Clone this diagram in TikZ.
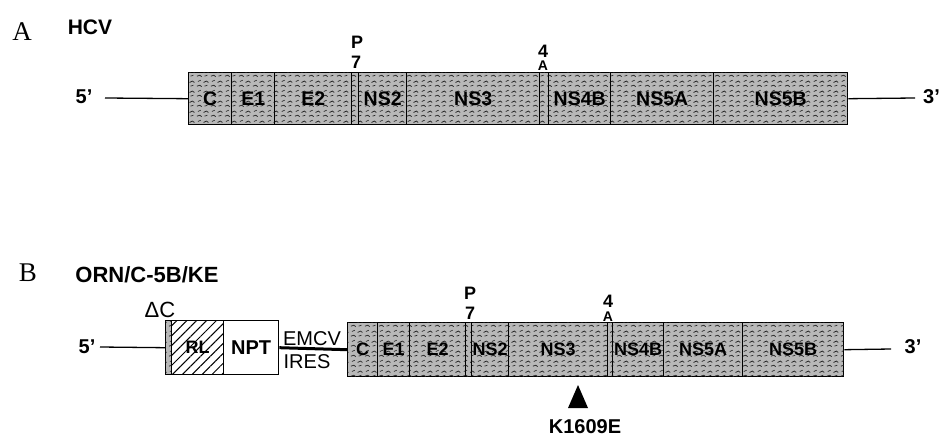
\documentclass[tikz,border=0pt]{standalone}
\usepackage{fontspec}
\setmainfont{Liberation Serif}
\setsansfont{Liberation Sans}
\usetikzlibrary{patterns.meta}
\tikzdeclarepattern{
  name=stipple,
  type=uncolored,
  bounding box={(0pt,0pt) and (14pt,10pt)},
  tile size={(14pt,10pt)},
  code={
    \draw[line width=0.8pt] (1pt,2pt) -- (4pt,3pt) -- (6pt,1.5pt);
    \draw[line width=0.8pt] (8pt,6pt) -- (11pt,7.5pt) -- (13pt,6pt);
    \draw[line width=0.7pt] (2pt,7pt) -- (5pt,8.5pt);
    \draw[line width=0.7pt] (9pt,2pt) -- (12pt,3pt);
  }
}
\begin{document}
\begin{tikzpicture}[x=1pt,y=-1pt,
  box/.style={draw=black, line width=1.4pt, inner sep=0pt, anchor=north west},
  seg/.style={box, fill=black!28,
    postaction={pattern=stipple, pattern color=black!85}},
  segA/.style={seg, minimum height=52pt, font=\sffamily\bfseries\fontsize{19.5}{19.5}\selectfont},
  segB/.style={seg, minimum height=54pt, font=\sffamily\bfseries\fontsize{18}{18}\selectfont},
  lbl/.style={inner sep=0pt, font=\sffamily\bfseries\fontsize{#1}{#1}\selectfont},
  lbl/.default=18,
  plain/.style={inner sep=0pt, font=\sffamily\fontsize{#1}{#1}\selectfont},
  panel/.style={inner sep=0pt, font=\rmfamily\fontsize{27}{27}\selectfont},
  strand/.style={line width=1.3pt}
]
\useasboundingbox (0,0) rectangle (941,438);

% ---------- Panel A ----------
\node[panel] (pA) at (22,32) {A};
\node[lbl=21] (tHCV) at (90,27) {HCV};

\node[segA, minimum width=43pt] (aC) at (188,72) {C};
\node[segA, minimum width=43pt] (aE1) at (231,72) {E1};
\node[segA, minimum width=77pt] (aE2) at (274,72) {E2};
\node[segA, minimum width=7pt] (ap7) at (351,72) {};
\node[segA, minimum width=48pt] (aNS2) at (358,72) {NS2};
\node[segA, minimum width=133pt] (aNS3) at (406,72) {NS3};
\node[segA, minimum width=9pt] (a4A) at (539,72) {};
\node[segA, minimum width=62pt] (aNS4B) at (548,72) {NS4B};
\node[segA, minimum width=103pt] (aNS5A) at (610,72) {NS5A};
\node[segA, minimum width=134pt] (aNS5B) at (713,72) {NS5B};

\node[lbl=18] (aP) at (357,42) {P};
\node[lbl=18] (a7) at (356,62) {7};
\node[lbl=18] (a4) at (543,51) {4};
\node[lbl=14] (aA) at (543,66) {A};

\node[lbl=20] (a5p) at (84,97) {5'};
\node[lbl=20, anchor=west] (a3p) at (923,97) {3'};
\coordinate (a5end) at (105,98);
\coordinate (a3end) at (915,98);
\draw[strand] (a5end) -- (aC.west);
\draw[strand] (aNS5B.east) -- (a3end);

% ---------- Panel B ----------
\node[panel] (pB) at (28,273) {B};
\node[lbl=22] (tORN) at (147,275) {ORN/C-5B/KE};

\node[seg, minimum width=6pt, minimum height=54pt] (bdC) at (165,320) {};
\node[box, minimum width=52pt, minimum height=54pt, fill=white,
      postaction={pattern={Lines[angle=45,distance=7pt,line width=1pt]}},
      font=\sffamily\bfseries\fontsize{18}{18}\selectfont] (bRL) at (171,320) {RL};
\node[box, minimum width=55pt, minimum height=54pt, fill=white,
      font=\sffamily\bfseries\fontsize{20}{20}\selectfont] (bNPT) at (223,320) {NPT};

\node[segB, minimum width=30pt] (bC) at (347,322) {C};
\node[segB, minimum width=32pt] (bE1) at (377,322) {E1};
\node[segB, minimum width=56pt] (bE2) at (409,322) {E2};
\node[segB, minimum width=6pt] (bp7) at (465,322) {};
\node[segB, minimum width=37pt] (bNS2) at (471,322) {NS2};
\node[segB, minimum width=99pt] (bNS3) at (508,322) {NS3};
\node[segB, minimum width=5pt] (b4A) at (607,322) {};
\node[segB, minimum width=51pt] (bNS4B) at (612,322) {NS4B};
\node[segB, minimum width=79pt] (bNS5A) at (663,322) {NS5A};
\node[segB, minimum width=101pt] (bNS5B) at (742,322) {NS5B};

\draw[line width=3pt] (bNPT.east) -- (bC.west);
\node[plain=20] (tEMCV) at (312,339) {EMCV};
\node[plain=20] (tIRES) at (307,362) {IRES};
\node[plain=22] (tdC) at (160,310) {ΔC};

\node[lbl=18] (bP) at (470,293) {P};
\node[lbl=18] (b7) at (470,313) {7};
\node[lbl=18] (b4) at (608,301) {4};
\node[lbl=14] (bA) at (608,317) {A};

\node[lbl=20] (b5p) at (87,347) {5'};
\node[lbl=20] (b3p) at (913,347) {3'};
\coordinate (b5end) at (100,347);
\coordinate (b3end) at (891,349);
\draw[strand] (b5end) -- (bdC.west);
\draw[strand] (bNS5B.east) -- (b3end);

\fill (568,408) -- (578,385) -- (588,408) -- cycle;
\node[lbl=20] (tK) at (585,427) {K1609E};
\end{tikzpicture}
\end{document}
